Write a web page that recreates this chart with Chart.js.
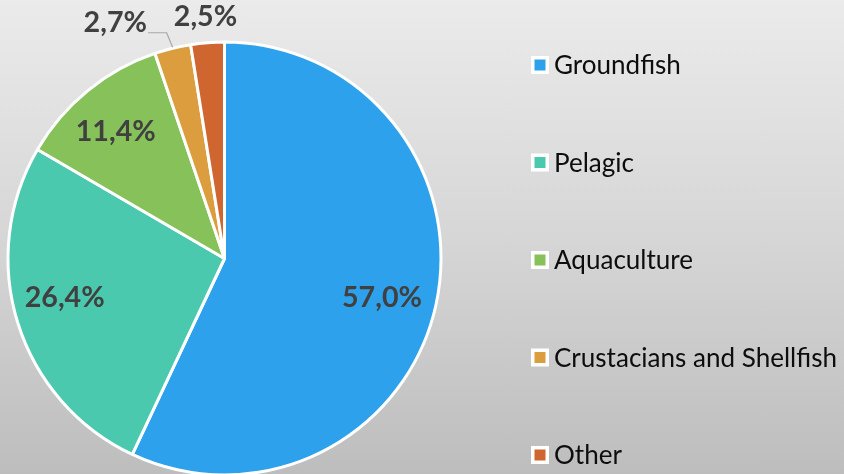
<!DOCTYPE html>
<html>
<head>
<meta charset="utf-8">
<script src="https://cdn.jsdelivr.net/npm/chart.js@4/dist/chart.umd.min.js"></script>
<style>
  html, body { margin: 0; padding: 0; width: 844px; height: 474px; overflow: hidden; }
  #wrap { width: 844px; height: 476px; background: linear-gradient(to bottom, #ebebeb 0%, #d6d6d6 50%, #bdbdbd 100%); }
  canvas { display: block; }
</style>
</head>
<body>
<div id="wrap"><canvas id="c" width="844" height="476"></canvas></div>
<script>
const categories = ["Groundfish", "Pelagic", "Aquaculture", "Crustacians and Shellfish", "Other"];
const shares = [57.0, 26.4, 11.4, 2.7, 2.5];
const valueLabels = ["57,0%", "26,4%", "11,4%", "2,7%", "2,5%"];
const colors = ["#2ea1ec", "#4bc9ae", "#87c159", "#dc9d3e", "#d0662f"];

const FONT = "Lato, 'Open Sans', sans-serif";

// label placement (radius factor, angle shift in degrees, leader line)
const labelPlacement = [
  { r: 0.75, shift: 1.5 },
  { r: 0.76, shift: 3.5 },
  { r: 0.77, shift: -1.5 },
  { r: 1.20, shift: -11, leader: true },
  { r: 1.12, shift: 0 }
];

function fitSize(ctx, weight, text, targetWidth) {
  ctx.font = weight + " 100px " + FONT;
  const w = ctx.measureText(text).width;
  return 100 * targetWidth / w;
}

const overlay = {
  id: 'overlay',
  afterDraw(chart) {
    const ctx = chart.ctx;
    const meta = chart.getDatasetMeta(0);
    // data labels
    const lblSize = fitSize(ctx, "bold", "26,4%", 80);
    ctx.save();
    ctx.font = "bold " + lblSize.toFixed(2) + "px " + FONT;
    ctx.fillStyle = "#404040";
    ctx.textAlign = "center";
    ctx.textBaseline = "middle";
    meta.data.forEach((arc, i) => {
      const p = arc.getProps(['x', 'y', 'startAngle', 'endAngle', 'outerRadius'], true);
      const mid = (p.startAngle + p.endAngle) / 2;
      const pl = labelPlacement[i];
      const a = mid + pl.shift * Math.PI / 180;
      const lx = p.x + Math.cos(a) * p.outerRadius * pl.r;
      const ly = p.y + Math.sin(a) * p.outerRadius * pl.r;
      if (pl.leader) {
        const w = ctx.measureText(valueLabels[i]).width;
        const ax = p.x + Math.cos(mid) * p.outerRadius;
        const ay = p.y + Math.sin(mid) * p.outerRadius;
        ctx.save();
        ctx.strokeStyle = "#a6a6a6";
        ctx.lineWidth = 1.2;
        ctx.beginPath();
        const sx = lx + w / 2 + 1, sy = ly + 10;
        ctx.moveTo(sx, sy);
        ctx.lineTo(ax - 6, sy);
        ctx.lineTo(ax, ay - 1);
        ctx.stroke();
        ctx.restore();
      }
      ctx.fillText(valueLabels[i], lx, ly);
    });
    ctx.restore();

    // legend
    const legSize = fitSize(ctx, "normal", "Crustacians and Shellfish", 283);
    ctx.save();
    ctx.font = legSize.toFixed(2) + "px " + FONT;
    ctx.textAlign = "left";
    ctx.textBaseline = "middle";
    const x0 = 540, y0 = 65, step = 97.5;
    categories.forEach((name, i) => {
      const y = y0 + i * step;
      ctx.fillStyle = "#ffffff";
      ctx.fillRect(x0 - 9, y - 9, 18, 18);
      ctx.fillStyle = colors[i];
      ctx.fillRect(x0 - 5.5, y - 5.5, 11, 11);
      ctx.fillStyle = "#0d0d0d";
      ctx.fillText(name, 554, y + 1);
    });
    ctx.restore();
  }
};

new Chart(document.getElementById('c'), {
  type: 'pie',
  data: {
    labels: categories,
    datasets: [{
      data: shares,
      backgroundColor: colors,
      borderColor: "#ffffff",
      borderWidth: 3
    }]
  },
  options: {
    responsive: false,
    animation: false,
    radius: 216.5,
    layout: { padding: { left: 0, right: 395, top: 41, bottom: 0 } },
    plugins: {
      legend: { display: false },
      tooltip: { enabled: false }
    }
  },
  plugins: [overlay]
});
</script>
</body>
</html>
